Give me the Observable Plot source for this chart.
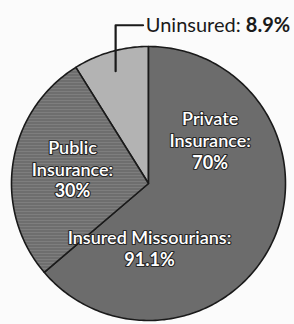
<!DOCTYPE html>
<html><head><meta charset="utf-8">
<script src="https://cdn.jsdelivr.net/npm/d3@7"></script>
<script src="https://cdn.jsdelivr.net/npm/@observablehq/plot@0.6"></script>
<style>
html,body{margin:0;padding:0;background:#fbfbfb;}
</style>
</head><body>
<div id="chart"></div>
<script>
// Data
const categories = ["Uninsured", "Private Insurance", "Public Insurance"];
const shares = [8.9, 63.77, 27.33]; // percent of all Missourians
const insuredTotal = 91.1;
const insuredSplit = [70, 30]; // private / public share of insured
const colors = ["#b3b3b3", "#6c6c6c", "url(#hatch)"];

// Pie layout (Uninsured counter-clockwise of 12 o'clock, then private clockwise)
const total = d3.sum(shares);
const startOffset = -shares[0] / total * 2 * Math.PI;
const pie = d3.pie().sort(null).startAngle(startOffset).endAngle(startOffset + 2 * Math.PI)(shares);

const rows = [];
pie.forEach((p, i) => {
  const n = Math.max(4, Math.ceil((p.endAngle - p.startAngle) * 60));
  rows.push({k: categories[i], x: 0, y: 0});
  for (let j = 0; j <= n; j++) {
    const a = p.startAngle + (p.endAngle - p.startAngle) * j / n;
    rows.push({k: categories[i], x: Math.sin(a), y: Math.cos(a)});
  }
  rows.push({k: categories[i], x: 0, y: 0});
});

const W = 294, H = 324, cx = 148, cy = 183, R = 137;

const labels = [
  {t: "Private", x: 0.45, y: 0.47},
  {t: "Insurance:", x: 0.45, y: 0.31},
  {t: `${insuredSplit[0]}%`, x: 0.45, y: 0.15, bold: true},
  {t: "Public", x: -0.555, y: 0.26},
  {t: "Insurance:", x: -0.555, y: 0.1},
  {t: `${insuredSplit[1]}%`, x: -0.555, y: -0.06, bold: true},
  {t: "Insured Missourians:", x: 0.007, y: -0.40},
  {t: `${insuredTotal}%`, x: 0.007, y: -0.56, bold: true}
];

const leader = [{x: -0.24, y: 0.82}, {x: -0.24, y: 1.155}, {x: -0.04, y: 1.155}];

const labelStyle = {
  x: "x", y: "y", text: "t", fill: "white", stroke: "#262626", strokeWidth: 2.2,
  paintOrder: "stroke", fontSize: 18, textAnchor: "middle", lineAnchor: "middle"
};

const plot = Plot.plot({
  width: W, height: H,
  margin: 0,
  x: {domain: [-cx / R, (W - cx) / R], axis: null},
  y: {domain: [-(H - cy) / R, cy / R], axis: null},
  style: {background: "transparent", fontFamily: "Lato, 'Open Sans', sans-serif"},
  marks: [
    ...categories.map((c, i) => Plot.line(rows.filter(r => r.k === c), {
      x: "x", y: "y", fill: colors[i], stroke: "#1a1a1a", strokeWidth: 1.6, strokeLinejoin: "round"
    })),
    Plot.line(leader, {x: "x", y: "y", stroke: "#1a1a1a", strokeWidth: 2.2}),
    Plot.text(labels.filter(d => !d.bold), {...labelStyle, fontWeight: 600}),
    Plot.text(labels.filter(d => d.bold), {...labelStyle, fontWeight: "bold"}),
    Plot.text([{a: "Uninsured: ", b: `${shares[0]}%`}], {
      x: () => -0.02, y: () => 1.155, text: d => d.a, fill: "#1a1a1a",
      fontSize: 20, textAnchor: "start", lineAnchor: "middle"
    })
  ]
});

// hatch pattern for public insurance
const svg = d3.select(plot);
const defs = svg.insert("defs", ":first-child");
const pat = defs.append("pattern").attr("id", "hatch").attr("patternUnits", "userSpaceOnUse")
  .attr("width", 8).attr("height", 3);
pat.append("rect").attr("width", 8).attr("height", 3).attr("fill", "#7e7e7e");
pat.append("rect").attr("y", 2).attr("width", 8).attr("height", 1).attr("fill", "#5e5e5e");

// bold value after "Uninsured: "
svg.selectAll("text").each(function() {
  const t = d3.select(this);
  if (t.text() === "Uninsured: ") {
    t.append("tspan").attr("font-weight", "bold").text(`${shares[0]}%`);
  }
});

document.getElementById("chart").appendChild(plot);
</script>
</body></html>
